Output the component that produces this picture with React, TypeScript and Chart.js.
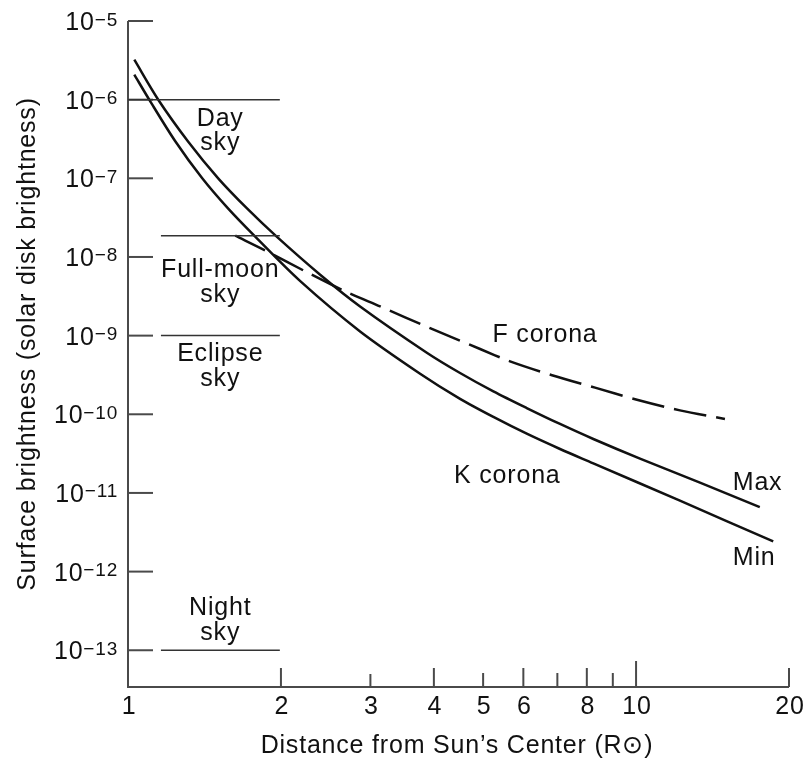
import React, { useEffect, useRef } from "react";
import { Chart, registerables } from "chart.js";

Chart.register(...registerables);

// K corona, solar maximum (upper solid curve)
const maxX = [1.029, 1.147, 1.314, 1.505, 1.717, 1.957, 2.389, 2.863, 3.874, 4.504, 5.238, 6.093, 7.085, 8.239, 10.18, 13.36, 17.52];
const maxY = [3.22e-6, 9.99e-7, 2.92e-7, 1.0e-7, 4.11e-8, 1.84e-8, 5.95e-9, 2.35e-9, 6.07e-10, 3.35e-10, 1.955e-10, 1.2e-10, 7.53e-11, 4.85e-11, 2.73e-11, 1.354e-11, 6.59e-12];

// K corona, solar minimum (lower solid curve)
const minX = [1.029, 1.101, 1.239, 1.4, 1.575, 1.78, 2.183, 2.863, 3.758, 4.504, 5.238, 6.093, 7.085, 8.239, 12.2, 18.62];
const minY = [2.08e-6, 1.0e-6, 2.96e-7, 1.0e-7, 4.11e-8, 1.81e-8, 4.92e-9, 1.13e-9, 3.28e-10, 1.57e-10, 9.25e-11, 5.66e-11, 3.62e-11, 2.38e-11, 7.97e-12, 2.42e-12];

// F corona (dashed)
const fX = [1.626, 1.877, 2.233, 2.676, 3.135, 3.932, 4.932, 5.649, 6.833, 8.303, 10.04, 12.2, 14.96];
const fY = [1.865e-8, 1.18e-8, 6.56e-9, 3.65e-9, 2.35e-9, 1.243e-9, 6.76e-10, 4.71e-10, 3.14e-10, 2.18e-10, 1.533e-10, 1.121e-10, 8.71e-11];

// Sky brightness levels
const skyNames = ["Day", "Full-moon", "Eclipse", "Night"];
const skyLevels = [1e-6, 1.86e-8, 1e-9, 1e-13];
const skyStart = [1.0, 1.161, 1.161, 1.161];
const skyEnd = [1.99, 1.99, 1.99, 1.99];

// Axis ticks
const yTickExponents = [-5, -6, -7, -8, -9, -10, -11, -12, -13];
const xTickValues = [2, 3, 4, 5, 6, 7, 8, 9, 10, 20];
const xTickLengths = [19, 13, 19, 14, 19, 14, 19, 14, 26, 19];
const xLabelValues = [1, 2, 3, 4, 5, 6, 8, 10, 20];

const yTitle = "Surface brightness (solar disk brightness)";
const xTitle = "Distance from Sun\u2019s Center (R\u2299)";

// Text annotations [text, x, y, align]
const annotations: [string, number, number, CanvasTextAlign][] = [
  ["Day", 1.519, 4.67e-7, "center"],
  ["sky", 1.519, 2.31e-7, "center"],
  ["Full-moon", 1.519, 5.61e-9, "center"],
  ["sky", 1.519, 2.7e-9, "center"],
  ["Eclipse", 1.519, 4.8e-10, "center"],
  ["sky", 1.519, 2.31e-10, "center"],
  ["Night", 1.519, 2.83e-13, "center"],
  ["sky", 1.519, 1.36e-13, "center"],
  ["F corona", 6.62, 8.38e-10, "center"],
  ["K corona", 5.58, 1.35e-11, "center"],
  ["Max", 15.5, 1.1e-11, "left"],
  ["Min", 15.5, 1.22e-12, "left"],
];

const FONT = '"Liberation Sans", Arial, Helvetica, sans-serif';
const TEXT = "#111111";
const AXIS = "#4a4a4a";

const toPts = (xs: number[], ys: number[]) => xs.map((x, i) => ({ x, y: ys[i] }));

const axesPlugin = {
  id: "customAxes",
  beforeDatasetsDraw(chart: any) {
    const { ctx, chartArea } = chart;
    const xs = chart.scales.x;
    const ys = chart.scales.y;
    ctx.save();
    ctx.strokeStyle = AXIS;
    ctx.lineWidth = 2;
    ctx.lineCap = "butt";
    ctx.beginPath();
    ctx.moveTo(chartArea.left, chartArea.top);
    ctx.lineTo(chartArea.left, chartArea.bottom);
    ctx.lineTo(chartArea.right, chartArea.bottom);
    ctx.stroke();
    yTickExponents.forEach((e) => {
      const y = ys.getPixelForValue(Math.pow(10, e));
      ctx.beginPath();
      ctx.moveTo(chartArea.left, y);
      ctx.lineTo(chartArea.left + 25, y);
      ctx.stroke();
    });
    xTickValues.forEach((v, i) => {
      const x = xs.getPixelForValue(v);
      ctx.beginPath();
      ctx.moveTo(x, chartArea.bottom);
      ctx.lineTo(x, chartArea.bottom - xTickLengths[i]);
      ctx.stroke();
    });
    ctx.restore();
  },
  afterDatasetsDraw(chart: any) {
    const { ctx, chartArea } = chart;
    const xs = chart.scales.x;
    const ys = chart.scales.y;
    ctx.save();
    ctx.fillStyle = TEXT;
    ctx.textBaseline = "alphabetic";
    (ctx as any).letterSpacing = "0.8px";

    yTickExponents.forEach((e) => {
      const y = ys.getPixelForValue(Math.pow(10, e));
      const base = "10";
      const sup = "\u2212" + String(-e);
      ctx.font = `25px ${FONT}`;
      const wb = ctx.measureText(base).width;
      ctx.font = `19px ${FONT}`;
      const ws = ctx.measureText(sup).width;
      const right = 118;
      const x0 = right - wb - ws;
      ctx.textAlign = "left";
      ctx.font = `25px ${FONT}`;
      ctx.fillText(base, x0, y + 9);
      ctx.font = `19px ${FONT}`;
      ctx.fillText(sup, x0 + wb, y + 4.5);
    });

    ctx.font = `25px ${FONT}`;
    ctx.textAlign = "center";
    xLabelValues.forEach((v) => {
      const x = xs.getPixelForValue(v);
      ctx.fillText(String(v), x + 1, chartArea.bottom + 27);
    });

    ctx.fillText(xTitle, 457, 753);
    ctx.save();
    ctx.translate(35, 344);
    ctx.rotate(-Math.PI / 2);
    ctx.textAlign = "center";
    ctx.fillText(yTitle, 0, 0);
    ctx.restore();

    annotations.forEach(([t, vx, vy, align]) => {
      ctx.textAlign = align;
      ctx.fillText(t, xs.getPixelForValue(vx), ys.getPixelForValue(vy));
    });
    ctx.restore();
  },
};

export default function App() {
  const ref = useRef<HTMLCanvasElement | null>(null);
  useEffect(() => {
    document.body.style.margin = "0";
    const canvas = ref.current;
    if (!canvas) return;
    const curve = (data: any, dash: number[] = []) => ({
      data,
      borderColor: "#111111",
      borderWidth: 2.5,
      borderDash: dash,
      tension: 0.3,
      pointRadius: 0,
      fill: false,
    });
    const skySets = skyLevels.map((lvl, i) => ({
      label: skyNames[i],
      data: [
        { x: skyStart[i], y: lvl },
        { x: skyEnd[i], y: lvl },
      ],
      borderColor: "#333333",
      borderWidth: 1.5,
      tension: 0,
      pointRadius: 0,
      fill: false,
    }));
    const chart = new Chart(canvas, {
      type: "line",
      data: {
        datasets: [
          ...skySets,
          { label: "Max", ...curve(toPts(maxX, maxY)) },
          { label: "Min", ...curve(toPts(minX, minY)) },
          { label: "F corona", ...curve(toPts(fX, fY), [33, 10]) },
        ] as any,
      },
      options: {
        animation: false,
        responsive: false,
        devicePixelRatio: 1,
        layout: { padding: { left: 128, top: 21, right: 18, bottom: 73 } },
        plugins: { legend: { display: false }, tooltip: { enabled: false } },
        scales: {
          x: { type: "logarithmic", min: 1, max: 20, display: false },
          y: { type: "logarithmic", min: 3.41e-14, max: 1e-5, display: false },
        },
        elements: { point: { radius: 0 } },
      },
      plugins: [axesPlugin],
    });
    return () => chart.destroy();
  }, []);
  return (
    <div style={{ width: 807, height: 760, overflow: "hidden", background: "#fff" }}>
      <canvas ref={ref} width={807} height={760} style={{ display: "block" }} />
    </div>
  );
}
